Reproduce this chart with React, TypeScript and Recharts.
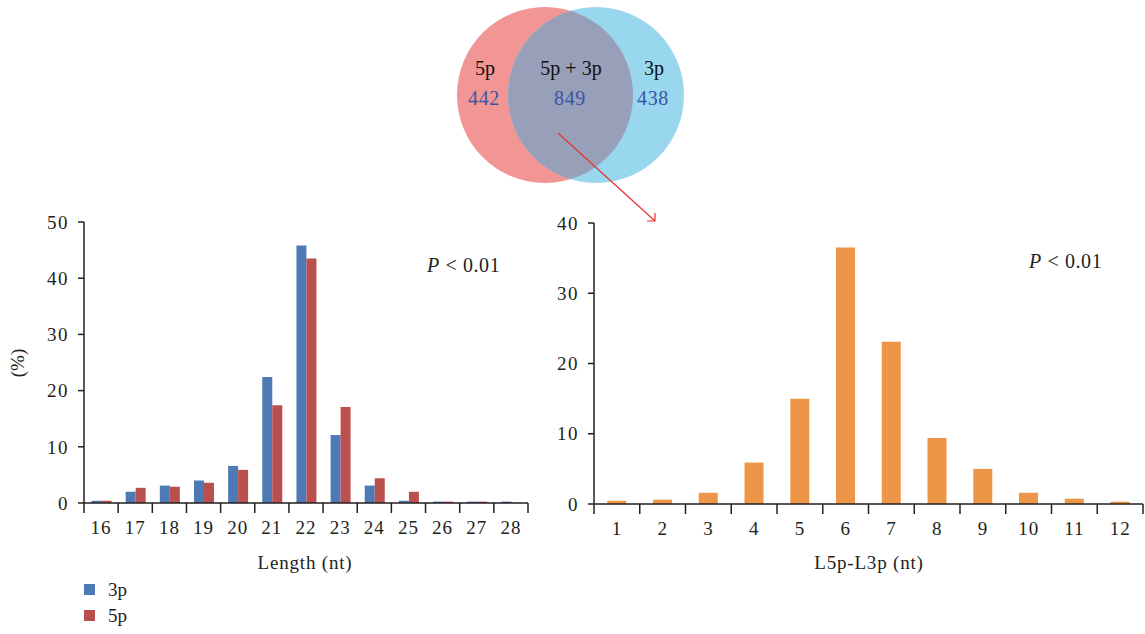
import { BarChart, Bar, XAxis, YAxis } from 'recharts'

// length distribution of 3p / 5p arms (%)
const lengths = ['16', '17', '18', '19', '20', '21', '22', '23', '24', '25', '26', '27', '28']
const share3p = [0.4, 2.0, 3.1, 4.0, 6.6, 22.4, 45.8, 12.1, 3.1, 0.4, 0.25, 0.25, 0.25]
const share5p = [0.4, 2.7, 2.9, 3.6, 5.9, 17.4, 43.5, 17.1, 4.4, 2.0, 0.25, 0.25, 0.05]
const lengthTicks = [0, 10, 20, 30, 40, 50]

// length difference between the two arms (%)
const diffs = ['1', '2', '3', '4', '5', '6', '7', '8', '9', '10', '11', '12']
const diffShare = [0.47, 0.62, 1.6, 5.9, 15.0, 36.5, 23.1, 9.4, 5.0, 1.6, 0.76, 0.33]
const diffTicks = [0, 10, 20, 30, 40]

const vennLabels = ['5p', '5p + 3p', '3p']
const vennCounts = [442, 849, 438]

const seriesNames = ['3p', '5p']
const seriesColors = ['#4d7ab4', '#b9504e']
const diffColor = '#ed9648'

const ink = '#231f20'
const font = "'Liberation Serif', 'Times New Roman', serif"

const lengthData = lengths.map((len, i) => ({ len, p3: share3p[i], p5: share5p[i] }))
const diffData = diffs.map((d, i) => ({ d, v: diffShare[i] }))

// x ticks sit on the category boundaries, labels in the middle
const boundaryTick = (step: number, last: string) => (props: any) => {
  const { x, y, payload } = props
  const half = step / 2
  return (
    <g>
      <line x1={x - half} x2={x - half} y1={y} y2={y + 10} stroke={ink} strokeWidth={1.5} />
      {payload.value === last && (
        <line x1={x + half} x2={x + half} y1={y} y2={y + 10} stroke={ink} strokeWidth={1.5} />
      )}
      <text x={x} y={y + 31} textAnchor="middle" fill={ink} fontSize={19} fontFamily={font} letterSpacing={1}>
        {payload.value}
      </text>
    </g>
  )
}

const yTick = { fill: ink, fontSize: 19, fontFamily: font, letterSpacing: 1.5 }
const axisLine = { stroke: ink, strokeWidth: 1.5 }

export default function App() {
  return (
    <div style={{ position: 'absolute', left: 0, top: 0, width: 1145, height: 634, background: '#fff', fontFamily: font }}>
      <div style={{ position: 'absolute', left: 0, top: 0 }}>
        <BarChart
          width={540}
          height={634}
          data={lengthData}
          margin={{ top: 222, right: 12, bottom: 71, left: 44 }}
          barCategoryGap="22%"
          barGap={0}
        >
          <XAxis
            dataKey="len"
            height={60}
            axisLine={axisLine}
            tickLine={false}
            tickSize={0}
            tickMargin={0}
            interval={0}
            tick={boundaryTick(444 / 13, lengths[lengths.length - 1])}
          />
          <YAxis
            width={40}
            domain={[0, 50]}
            ticks={lengthTicks}
            axisLine={axisLine}
            tickLine={{ stroke: ink, strokeWidth: 1.5 }}
            tickSize={6}
            tickMargin={9}
            tick={yTick}
          />
          <Bar dataKey="p3" fill={seriesColors[0]} isAnimationActive={false} />
          <Bar dataKey="p5" fill={seriesColors[1]} isAnimationActive={false} />
        </BarChart>
      </div>

      <div style={{ position: 'absolute', left: 550, top: 0 }}>
        <BarChart
          width={595}
          height={634}
          data={diffData}
          margin={{ top: 223, right: 2, bottom: 70, left: 4 }}
          barCategoryGap="29%"
        >
          <XAxis
            dataKey="d"
            height={60}
            axisLine={axisLine}
            tickLine={false}
            tickSize={0}
            tickMargin={0}
            interval={0}
            tick={boundaryTick(549 / 12, diffs[diffs.length - 1])}
          />
          <YAxis
            width={40}
            domain={[0, 40]}
            ticks={diffTicks}
            axisLine={axisLine}
            tickLine={{ stroke: ink, strokeWidth: 1.5 }}
            tickSize={6}
            tickMargin={9}
            tick={yTick}
          />
          <Bar dataKey="v" fill={diffColor} isAnimationActive={false} />
        </BarChart>
      </div>

      <svg
        width={1145}
        height={634}
        style={{ position: 'absolute', left: 0, top: 0, pointerEvents: 'none' }}
        fontFamily={font}
      >
        <defs>
          <clipPath id="rightCircle">
            <circle cx={596} cy={95} r={88} />
          </clipPath>
        </defs>
        {/* venn diagram */}
        <circle cx={545} cy={95} r={88} fill="#f29595" />
        <circle cx={596} cy={95} r={88} fill="#99d7ee" />
        <circle cx={545} cy={95} r={88} fill="#97a0b8" clipPath="url(#rightCircle)" />
        {[485, 571, 654].map((cx, i) => (
          <g key={i}>
            <text x={cx} y={75} textAnchor="middle" fontSize={20} fill="#111">{vennLabels[i]}</text>
            <text x={cx - 1} y={105} textAnchor="middle" fontSize={20} fill="#3a55a5" letterSpacing={0.6}>{vennCounts[i]}</text>
          </g>
        ))}
        <line x1={558} y1={133} x2={655} y2={221} stroke="#e8312f" strokeWidth={1.2} />
        <polyline points="647,221 655,221 655,213" fill="none" stroke="#e8312f" strokeWidth={1.2} />

        {/* axis titles */}
        <text x={305} y={569} textAnchor="middle" fontSize={19} fill={ink} letterSpacing={0.8}>Length (nt)</text>
        <text x={869} y={569} textAnchor="middle" fontSize={19} fill={ink} letterSpacing={0.8}>L5p-L3p (nt)</text>
        <text x={24} y={363} textAnchor="middle" fontSize={19} fill={ink} transform="rotate(-90 24 363)">(%)</text>

        <text x={427} y={272} fontSize={20} fill={ink} letterSpacing={0.6}>
          <tspan fontStyle="italic">P</tspan> &lt; 0.01
        </text>
        <text x={1029} y={268} fontSize={20} fill={ink} letterSpacing={0.6}>
          <tspan fontStyle="italic">P</tspan> &lt; 0.01
        </text>

        {/* legend */}
        {seriesNames.map((name, i) => (
          <g key={name}>
            <rect x={84} y={584 + i * 26} width={11} height={11} fill={seriesColors[i]} />
            <text x={108} y={596 + i * 26} fontSize={19} fill={ink}>{name}</text>
          </g>
        ))}
      </svg>
    </div>
  )
}
